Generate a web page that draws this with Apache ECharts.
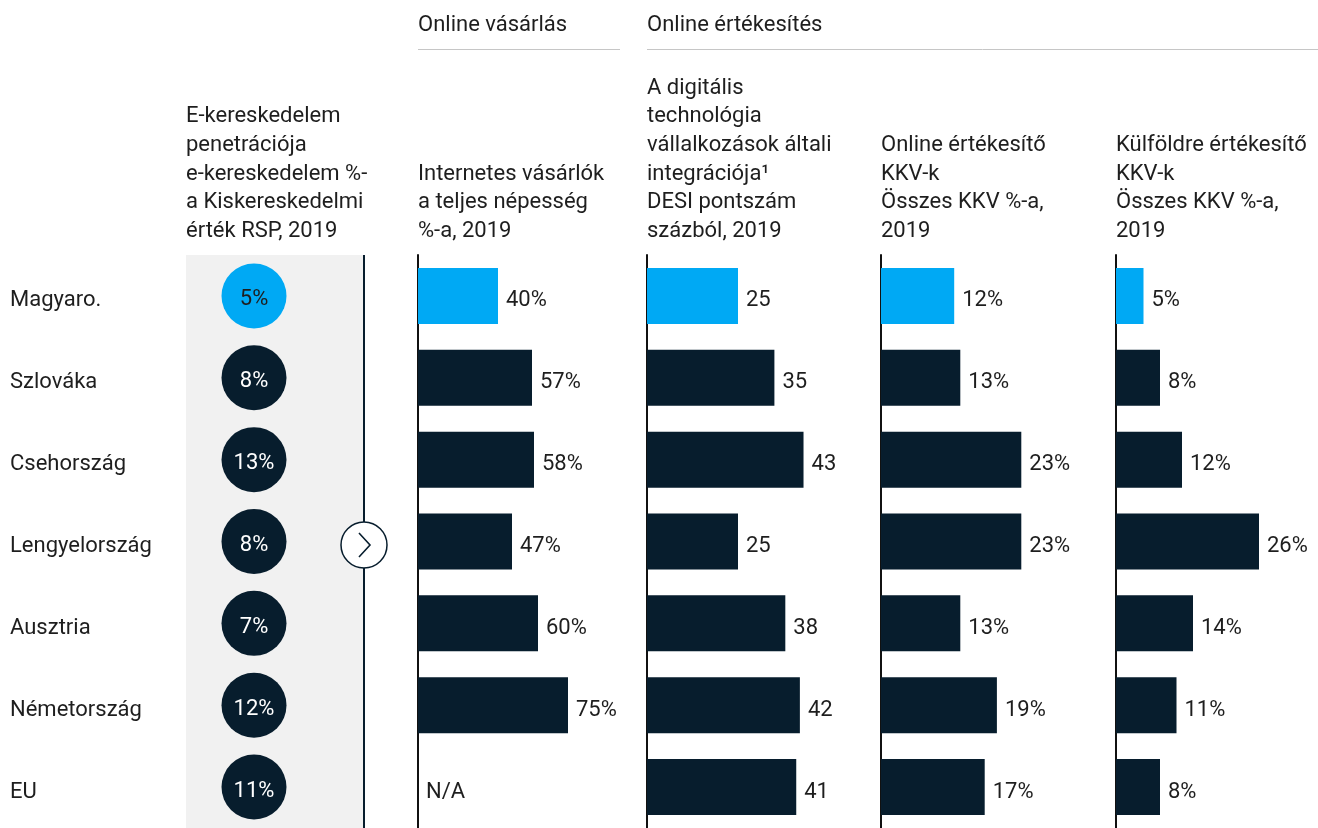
<!DOCTYPE html>
<html>
<head>
<meta charset="utf-8">
<script src="https://cdn.jsdelivr.net/npm/echarts@6/dist/echarts.min.js"></script>
<style>
  html, body { margin: 0; padding: 0; background: #fff; }
  #chart { width: 1318px; height: 828px; }
</style>
</head>
<body>
<div id="chart"></div>
<script>
// adatok
var countries = ['Magyaro.', 'Szlováka', 'Csehország', 'Lengyelország', 'Ausztria', 'Németország', 'EU'];
var ecomPenetration = [5, 8, 13, 8, 7, 12, 11];
var onlineShoppers = [40, 57, 58, 47, 60, 75, null];
var desiScore = [25, 35, 43, 25, 38, 42, 41];
var smeOnline = [12, 13, 23, 23, 13, 19, 17];
var smeAbroad = [5, 8, 12, 26, 14, 11, 8];

var DARK = '#071d2d', BLUE = '#00a9f4', TXT = '#1e1e1e';
var FONT = 'Roboto', FS = 22;
var TOP = 255, H = 577.5;

var myChart = echarts.init(document.getElementById('chart'));

function barData(arr) {
	return arr.map(function (v, i) {
		if (v === null) {
			return { value: 0, label: { formatter: 'N/A' } };
		}
		return { value: v, itemStyle: { color: i === 0 ? BLUE : DARK } };
	});
}

function header(text, x) {
	return {
		text: text, left: x, bottom: 582, padding: 0,
		textStyle: { fontFamily: FONT, fontSize: FS, fontWeight: 'normal', color: TXT, lineHeight: 28.7 }
	};
}

// bar grids: left, width, max
var cols = [
	{ left: 418, width: 200, max: 100, data: onlineShoppers, fmt: '{c}%' },
	{ left: 647, width: 182, max: 50, data: desiScore, fmt: '{c}' },
	{ left: 881, width: 183, max: 30, data: smeOnline, fmt: '{c}%' },
	{ left: 1116, width: 165, max: 30, data: smeAbroad, fmt: '{c}%' }
];

var grids = [{ left: 186, width: 136, top: TOP, height: H }];
var xAxes = [{ gridIndex: 0, type: 'category', data: [''], show: false }];
var yAxes = [{
	gridIndex: 0, type: 'category', data: countries, inverse: true,
	axisLine: { show: false }, axisTick: { show: false },
	axisLabel: {
		align: 'left', margin: 176,
		formatter: function (v) { return '{c|' + v + '}'; },
		rich: { c: { fontFamily: FONT, fontSize: FS, color: TXT, padding: [10, 0, 0, 0] } }
	}
}];
var series = [{
	type: 'scatter', xAxisIndex: 0, yAxisIndex: 0, symbolSize: 65, z: 5,
	itemStyle: { opacity: 1 },
	data: ecomPenetration.map(function (v, i) {
		return { value: [0, i, v], itemStyle: { color: i === 0 ? BLUE : DARK, opacity: 1 },
			label: { color: i === 0 ? TXT : '#fff' } };
	}),
	label: {
		show: true, position: 'inside', fontFamily: FONT, fontSize: FS, offset: [0, 4],
		formatter: function (p) { return p.value[2] + '%'; }
	}
}];

cols.forEach(function (c, k) {
	var gi = k + 1;
	grids.push({ left: c.left, width: c.width, top: TOP, height: H });
	xAxes.push({ gridIndex: gi, type: 'value', min: 0, max: c.max, show: false });
	yAxes.push({
		gridIndex: gi, type: 'category', data: countries, inverse: true,
		axisLine: { show: true, lineStyle: { color: '#111', width: 2 } },
		axisTick: { show: false }, axisLabel: { show: false }, splitLine: { show: false }
	});
	series.push({
		type: 'bar', xAxisIndex: gi, yAxisIndex: gi, barWidth: 56,
		data: barData(c.data),
		label: { show: true, position: 'right', distance: 8, formatter: c.fmt, offset: [0, 5],
			fontFamily: FONT, fontSize: FS, color: TXT }
	});
});

var option = {
	animation: false,
	backgroundColor: '#fff',
	title: [
		{ text: 'Online vásárlás', left: 418, top: 14, padding: 0,
			textStyle: { fontFamily: FONT, fontSize: FS, fontWeight: 'normal', color: TXT } },
		{ text: 'Online értékesítés', left: 647, top: 14, padding: 0,
			textStyle: { fontFamily: FONT, fontSize: FS, fontWeight: 'normal', color: TXT } },
		header('E-kereskedelem\npenetrációja\ne-kereskedelem %-\na Kiskereskedelmi\nérték RSP, 2019', 186),
		header('Internetes vásárlók\na teljes népesség\n%-a, 2019', 418),
		header('A digitális\ntechnológia\nvállalkozások általi\nintegrációja¹\nDESI pontszám\nszázból, 2019', 647),
		header('Online értékesítő\nKKV-k\nÖsszes KKV %-a,\n2019', 881),
		header('Külföldre értékesítő\nKKV-k\nÖsszes KKV %-a,\n2019', 1116)
	],
	grid: grids,
	xAxis: xAxes,
	yAxis: yAxes,
	series: series,
	graphic: [
		{ type: 'rect', z: -10, shape: { x: 186, y: 255, width: 177, height: 573 }, style: { fill: '#f1f1f1' } },
		{ type: 'line', z: 1, shape: { x1: 364, y1: 255, x2: 364, y2: 828 }, style: { stroke: DARK, lineWidth: 2 } },
		{ type: 'line', shape: { x1: 418, y1: 49.5, x2: 620, y2: 49.5 }, style: { stroke: '#c6c6c6', lineWidth: 1 } },
		{ type: 'line', shape: { x1: 647, y1: 49.5, x2: 1318, y2: 49.5 }, style: { stroke: '#c6c6c6', lineWidth: 1 } },
		{ type: 'circle', z: 10, shape: { cx: 364, cy: 545, r: 23 }, style: { fill: '#fff', stroke: DARK, lineWidth: 1.5 } },
		{ type: 'polyline', z: 11, shape: { points: [[359, 533], [370, 545], [359, 557]] }, style: { stroke: DARK, lineWidth: 1.6, fill: null } }
	]
};

myChart.setOption(option);
</script>
</body>
</html>
